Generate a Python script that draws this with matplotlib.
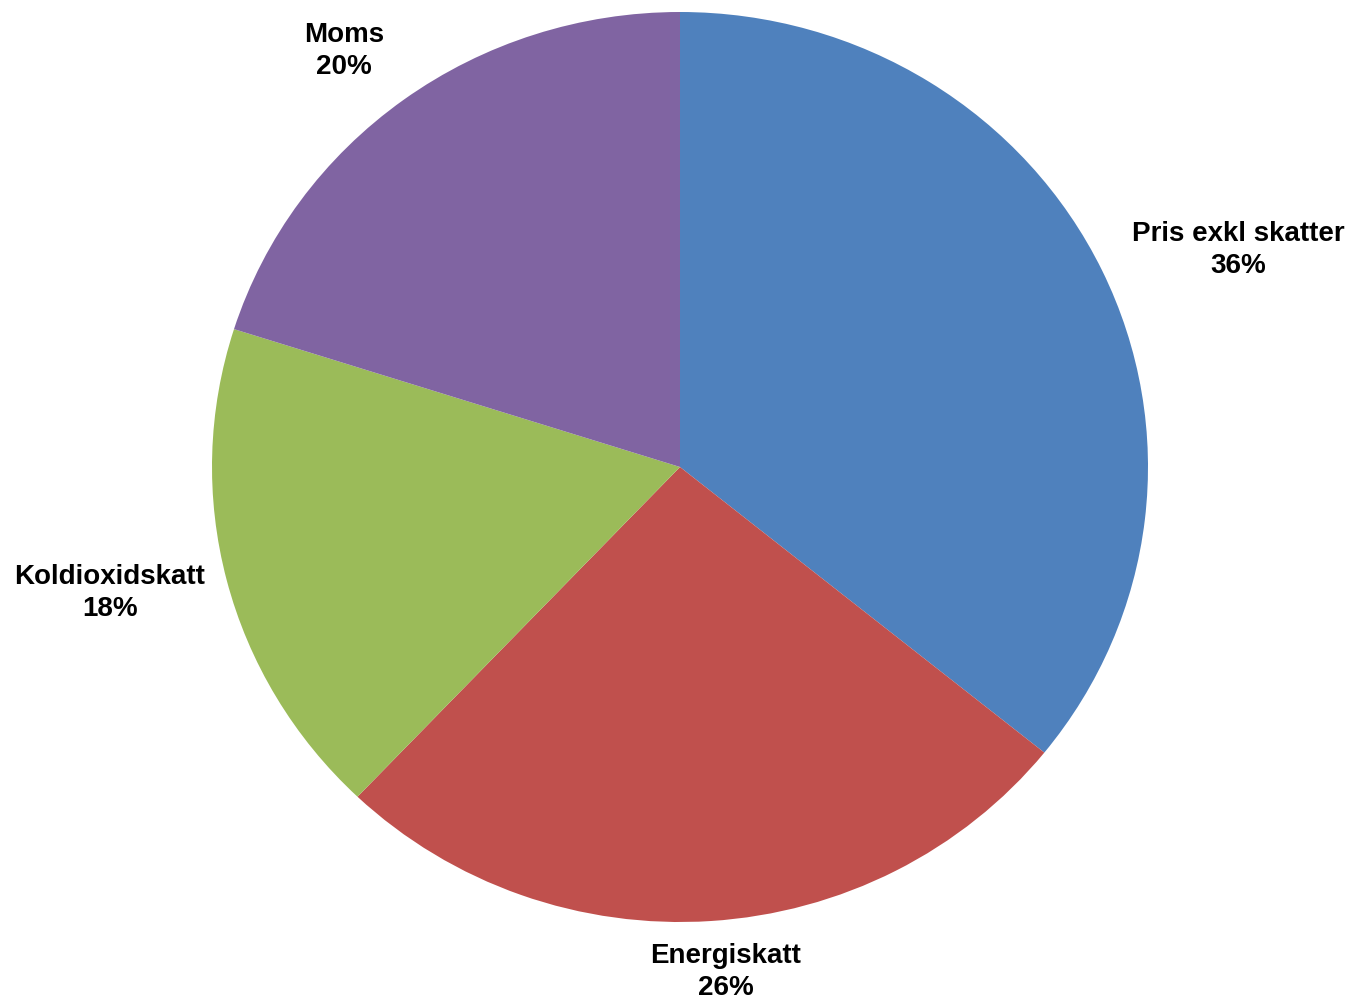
import matplotlib
matplotlib.use("Agg")
import matplotlib.pyplot as plt

categories = ["Pris exkl skatter", "Energiskatt", "Koldioxidskatt", "Moms"]
values = [35.8, 26.3, 17.8, 20.1]
pct_labels = ["36%", "26%", "18%", "20%"]
colors = ["#4F81BD", "#C0504D", "#9BBB59", "#8064A2"]

W, H = 1348, 1001
fig = plt.figure(figsize=(W / 100, H / 100), dpi=100)
ax = fig.add_axes([0, 0, 1, 1])

cx, cy, rx, ry = 680, 467, 468, 455
ax.pie(values, colors=colors, startangle=90, counterclock=False,
       wedgeprops=dict(linewidth=0))
ax.set_aspect("auto")
ax.set_xlim(-cx / rx, (W - cx) / rx)
ax.set_ylim((cy - H) / ry, cy / ry)
ax.axis("off")

# label anchor points (pixel layout)
label_px = [(1238, 250), (726, 972), (110, 593), (344, 51)]
for cat, pct, (px, py) in zip(categories, pct_labels, label_px):
    ax.text((px - cx) / rx, (cy - py) / ry, f"{cat}\n{pct}",
            ha="center", va="center", fontsize=20, fontweight="bold",
            family=["Liberation Sans", "DejaVu Sans"], linespacing=1.32)

fig.savefig("out.png", dpi=100, facecolor="white")
